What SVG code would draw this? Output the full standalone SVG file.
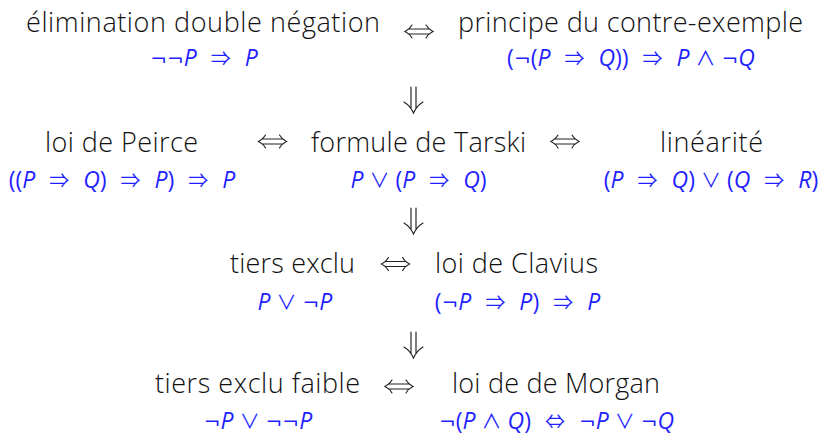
<svg xmlns="http://www.w3.org/2000/svg" width="822" height="433" viewBox="0 0 822 433">
<style>
.t{font-family:"Open Sans","Noto Sans","DejaVu Sans",sans-serif;font-size:27px;font-weight:300;fill:#111;text-anchor:middle}
.f{font-family:"Open Sans","Noto Sans","DejaVu Sans",sans-serif;font-size:23px;fill:#1f1fff;text-anchor:middle}
.f .v{font-style:italic}
.f .n{font-family:"DejaVu Sans",sans-serif;font-size:20px}
.f .o{font-family:"Noto Sans CJK JP","DejaVu Sans",sans-serif;font-size:20px}
.f .r{word-spacing:8px}
.f .b{word-spacing:0px}
.arr{fill:none;stroke:#222;stroke-width:1.15;stroke-linecap:round}
</style>
<defs>
<path id="iff" d="M-10.5,-2.5 H10.5 M-10.5,2.5 H10.5 M-7,-6.5 Q-9.5,-2 -14,0 Q-9.5,2 -7,6.5 M7,-6.5 Q9.5,-2 14,0 Q9.5,2 7,6.5"/>
<path id="down" d="M-2.5,0 V21 M2.5,0 V21 M-9.5,15 Q-3,19 0,26 Q3,19 9.5,15"/>
</defs>
<rect width="822" height="433" fill="#fff"/>
<g id="n-double-negation">
<text class="t" x="203" y="32" textLength="354">élimination double négation</text>
<text class="f" x="204" y="66"><tspan class="n">¬¬</tspan><tspan class="v">P</tspan><tspan class="r"> <tspan class="o">⇒</tspan> </tspan><tspan class="v">P</tspan></text>
</g>
<g id="n-contre-exemple">
<text class="t" x="630.5" y="32" textLength="345">principe du contre-exemple</text>
<text class="f" x="631" y="66">(<tspan class="n">¬</tspan>(<tspan class="v">P</tspan><tspan class="r"> <tspan class="o">⇒</tspan> </tspan><tspan class="v">Q</tspan>))<tspan class="r"> <tspan class="o">⇒</tspan> </tspan><tspan class="v">P</tspan><tspan class="b"> <tspan class="o">∧</tspan> </tspan><tspan class="n">¬</tspan><tspan class="v">Q</tspan></text>
</g>
<g id="n-peirce">
<text class="t" x="121.5" y="152" textLength="153">loi de Peirce</text>
<text class="f" x="122" y="188">((<tspan class="v">P</tspan><tspan class="r"> <tspan class="o">⇒</tspan> </tspan><tspan class="v">Q</tspan>)<tspan class="r"> <tspan class="o">⇒</tspan> </tspan><tspan class="v">P</tspan>)<tspan class="r"> <tspan class="o">⇒</tspan> </tspan><tspan class="v">P</tspan></text>
</g>
<g id="n-tarski">
<text class="t" x="418.5" y="152" textLength="215">formule de Tarski</text>
<text class="f" x="418.5" y="188"><tspan class="v">P</tspan><tspan class="b"> <tspan class="o">∨</tspan> </tspan>(<tspan class="v">P</tspan><tspan class="r"> <tspan class="o">⇒</tspan> </tspan><tspan class="v">Q</tspan>)</text>
</g>
<g id="n-linearite">
<text class="t" x="711.5" y="152" textLength="103">linéarité</text>
<text class="f" x="711" y="188">(<tspan class="v">P</tspan><tspan class="r"> <tspan class="o">⇒</tspan> </tspan><tspan class="v">Q</tspan>)<tspan class="b"> <tspan class="o">∨</tspan> </tspan>(<tspan class="v">Q</tspan><tspan class="r"> <tspan class="o">⇒</tspan> </tspan><tspan class="v">R</tspan>)</text>
</g>
<g id="n-tiers-exclu">
<text class="t" x="292.5" y="273" textLength="125">tiers exclu</text>
<text class="f" x="295" y="310"><tspan class="v">P</tspan><tspan class="b"> <tspan class="o">∨</tspan> </tspan><tspan class="n">¬</tspan><tspan class="v">P</tspan></text>
</g>
<g id="n-clavius">
<text class="t" x="516.5" y="273" textLength="163">loi de Clavius</text>
<text class="f" x="517.5" y="310">(<tspan class="n">¬</tspan><tspan class="v">P</tspan><tspan class="r"> <tspan class="o">⇒</tspan> </tspan><tspan class="v">P</tspan>)<tspan class="r"> <tspan class="o">⇒</tspan> </tspan><tspan class="v">P</tspan></text>
</g>
<g id="n-tiers-exclu-faible">
<text class="t" x="257.5" y="393" textLength="205">tiers exclu faible</text>
<text class="f" x="258" y="429"><tspan class="n">¬</tspan><tspan class="v">P</tspan><tspan class="b"> <tspan class="o">∨</tspan> </tspan><tspan class="n">¬¬</tspan><tspan class="v">P</tspan></text>
</g>
<g id="n-de-morgan">
<text class="t" x="556" y="393" textLength="208">loi de de Morgan</text>
<text class="f" x="556.5" y="429"><tspan class="n">¬</tspan>(<tspan class="v">P</tspan><tspan class="b"> <tspan class="o">∧</tspan> </tspan><tspan class="v">Q</tspan>)<tspan class="r"> <tspan class="o">⇔</tspan> </tspan><tspan class="n">¬</tspan><tspan class="v">P</tspan><tspan class="b"> <tspan class="o">∨</tspan> </tspan><tspan class="n">¬</tspan><tspan class="v">Q</tspan></text>
</g>
<g id="connectors" class="arr">
<use href="#iff" x="419" y="31.5"/>
<use href="#down" x="413.5" y="87"/>
<use href="#iff" x="272.5" y="141.5"/>
<use href="#iff" x="565" y="141.5"/>
<use href="#down" x="413.5" y="208"/>
<use href="#iff" x="395.5" y="264"/>
<use href="#down" x="413.5" y="332"/>
<use href="#iff" x="399" y="386.5"/>
</g>
</svg>
